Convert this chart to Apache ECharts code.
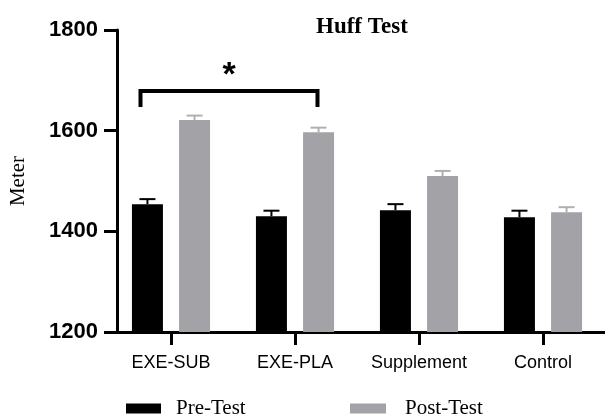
<!DOCTYPE html>
<html>
<head>
<meta charset="utf-8">
<script src="https://cdn.jsdelivr.net/npm/echarts@6/dist/echarts.min.js"></script>
<style>
  html, body { margin: 0; padding: 0; background: #fff; }
  #chart { width: 605px; height: 414px; }
</style>
</head>
<body>
<div id="chart"></div>
<script>
const groups = ["EXE-SUB", "EXE-PLA", "Supplement", "Control"];
const preTest = [1454, 1430, 1442, 1428];
const postTest = [1621, 1597, 1510, 1438];
const preErr = [10, 11, 12, 13];
const postErr = [9, 9, 10, 10];
const yTicks = [1200, 1400, 1600, 1800];
// significance bracket: from group 0 to group 1
const bracket = [[0, 1, 1679, 1647]];

const barWidth = 31;
const barGap = 0.52;
const barShift = (barWidth + barWidth * barGap) / 2;
const grayColor = "#a3a2a7";

const chart = echarts.init(document.getElementById("chart"), null, { renderer: "canvas" });

function errorBars(shift, color, width) {
  return function (params, api) {
    const cat = api.value(0);
    const base = api.coord([cat, api.value(1)]);
    const top = api.coord([cat, api.value(1) + api.value(2)]);
    const x = base[0] + shift;
    const style = { stroke: color, lineWidth: width };
    return {
      type: "group",
      children: [
        { type: "line", shape: { x1: x, y1: base[1], x2: x, y2: top[1] }, style: style },
        { type: "line", shape: { x1: x - 8, y1: top[1], x2: x + 8, y2: top[1] }, style: style }
      ]
    };
  };
}

const option = {
  animation: false,
  title: {
    text: "Huff Test",
    left: 311,
    top: 11,
    textStyle: { fontFamily: "Liberation Serif", fontWeight: "bold", fontSize: 23, color: "#000" }
  },
  legend: [
    {
      data: ["Pre-Test"],
      left: 121,
      top: 393,
      icon: "rect",
      itemWidth: 35,
      itemHeight: 10,
      textStyle: { fontFamily: "Liberation Serif", fontSize: 21, color: "#000", padding: [0, 0, 0, 10] }
    },
    {
      data: ["Post-Test"],
      left: 345,
      top: 393,
      icon: "rect",
      itemWidth: 36,
      itemHeight: 10,
      textStyle: { fontFamily: "Liberation Serif", fontSize: 21, color: "#000", padding: [0, 0, 0, 14] }
    }
  ],
  grid: { left: 108, top: 30, width: 504, height: 302, containLabel: false },
  xAxis: {
    type: "category",
    data: groups,
    axisLine: { show: true, lineStyle: { color: "#000", width: 3 } },
    axisTick: { show: true, alignWithLabel: true, interval: 0, length: 13, lineStyle: { color: "#000", width: 3 } },
    axisLabel: { interval: 0, margin: 22, fontFamily: "Liberation Sans", fontSize: 18, color: "#000" }
  },
  yAxis: {
    type: "value",
    min: 1200,
    max: 1800,
    interval: 200,
    offset: -8,
    name: "Meter",
    nameLocation: "middle",
    nameRotate: 90,
    nameGap: 88,
    nameTextStyle: { fontFamily: "Liberation Serif", fontSize: 21, color: "#000" },
    splitLine: { show: false },
    axisLine: { show: true, lineStyle: { color: "#000", width: 3 } },
    axisTick: { show: true, length: 13, lineStyle: { color: "#000", width: 3 } },
    axisLabel: {
      margin: 19,
      fontFamily: "Liberation Sans",
      fontWeight: "bold",
      fontSize: 22,
      color: "#000",
      formatter: function (v) { return yTicks.indexOf(v) >= 0 ? String(v) : ""; }
    }
  },
  series: [
    {
      name: "Pre-Test",
      type: "bar",
      data: preTest,
      barWidth: barWidth,
      barGap: (barGap * 100) + "%",
      itemStyle: { color: "#000" }
    },
    {
      name: "Post-Test",
      type: "bar",
      data: postTest,
      barWidth: barWidth,
      itemStyle: { color: grayColor }
    },
    {
      type: "custom",
      z: 5,
      clip: false,
      renderItem: errorBars(-barShift, "#000", 2),
      data: preTest.map(function (v, i) { return [i, v, preErr[i]]; })
    },
    {
      type: "custom",
      z: 5,
      clip: false,
      renderItem: errorBars(barShift, "#b0b0b3", 2),
      data: postTest.map(function (v, i) { return [i, v, postErr[i]]; })
    },
    {
      type: "custom",
      z: 6,
      clip: false,
      renderItem: function (params, api) {
        const a = api.coord([api.value(0), api.value(2)]);
        const b = api.coord([api.value(1), api.value(2)]);
        const low = api.coord([api.value(0), api.value(3)]);
        const x1 = a[0] - 30.5;
        const x2 = b[0] + 22.5;
        return {
          type: "group",
          children: [
            {
              type: "polyline",
              shape: { points: [[x1, low[1]], [x1, a[1]], [x2, a[1]], [x2, low[1]]] },
              style: { stroke: "#000", lineWidth: 4, fill: null }
            },
            {
              type: "text",
              style: {
                text: "*",
                x: (x1 + x2) / 2,
                y: a[1] + 2,
                align: "center",
                verticalAlign: "bottom",
                font: "bold 34px Liberation Sans",
                fill: "#000"
              }
            }
          ]
        };
      },
      data: bracket
    }
  ]
};

chart.setOption(option);
</script>
</body>
</html>
